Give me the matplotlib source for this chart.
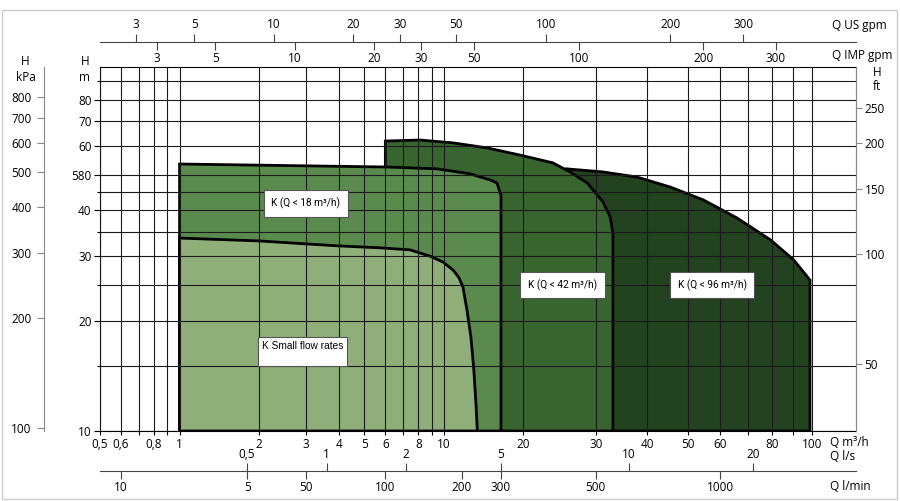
import numpy as np
import matplotlib
matplotlib.use('Agg')
import matplotlib.pyplot as plt
from matplotlib.patches import Rectangle
from matplotlib.ticker import NullFormatter

plt.rcParams['font.family'] = ['Open Sans', 'DejaVu Sans']

# pump ranges, Q in m3/h and H in m
small_q = [1.0, 1.0, 2.0, 3.94, 5.73, 7.44, 8.85, 9.91, 10.97, 11.67, 12.16,
           12.67, 13.2, 13.6, 13.9, 14.1]
small_h = [10, 33.6, 33.0, 32.0, 31.6, 31.2, 30.0, 28.9, 27.5, 26.2, 24.7,
           21.4, 18.05, 14.7, 11.9, 10]
k18_q = [1.0, 1.0, 2.93, 6.09, 9.41, 13.1, 16.1, 17.26, 18.0, 18.0]
k18_h = [10, 53.5, 52.9, 52.5, 51.9, 50.3, 48.4, 47.5, 44.0, 10]
k42_q = [6.0, 6.0, 8.11, 10.97, 15.6, 19.7, 23.6, 26.0, 28.6, 31.2, 32.5, 33.0, 33.0]
k42_h = [10, 61.8, 62.2, 61.1, 59.2, 56.6, 53.9, 50.9, 47.5, 42.2, 38.4, 34.7, 10]
k96_q = [25.5, 25.5, 31.2, 37.7, 45.4, 54.6, 65.9, 79.4, 90.3, 98.9, 98.9]
k96_h = [10, 51.9, 50.9, 49.3, 46.3, 42.7, 38.1, 33.2, 29.3, 25.8, 10]

# axis ticks
q_major = [0.5, 0.6, 0.8, 1, 2, 3, 4, 5, 6, 8, 10, 20, 30, 40, 50, 60, 80, 100]
q_major_lbl = ['0,5', '0,6', '0,8', '1', '2', '3', '4', '5', '6', '8', '10',
               '20', '30', '40', '50', '60', '80', '100']
q_minor = [0.7, 0.9, 7, 9, 70, 90]
h_major = [10, 20, 30, 40, 50, 60, 70, 80]
h_major_lbl = ['10', '20', '30', '40', '580', '60', '70', '80']
h_minor = [15, 25, 35, 45, 90]
us_gpm = [3, 5, 10, 20, 30, 50, 100, 200, 300]
imp_gpm = [3, 5, 10, 20, 30, 50, 100, 200, 300]
l_s = [0.5, 1, 2, 5, 10, 20]
l_s_lbl = ['0,5', '1', '2', '5', '10', '20']
l_min = [10, 30, 50, 100, 200, 300, 500, 1000]
l_min_lbl = ['10', '5', '50', '100', '200', '300', '500', '1000']
kpa = [100, 200, 300, 400, 500, 600, 700, 800]
ft = [50, 100, 150, 200, 250]

# the Q axis of the original is not one plain log scale: piecewise log
knot_q = np.log10([0.01, 0.5, 10, 18, 20, 100, 1000])
knot_u = [-349.0, 100, 444, 501, 523, 812, 1225.4]


def fwd(x):
    x = np.clip(np.asarray(x, dtype=float), 0.01, 1000)
    return np.interp(np.log10(x), knot_q, knot_u)


def inv(u):
    return 10 ** np.interp(u, knot_u, knot_q)


W, H = 900, 501
L, R, T, B = 100, 856, 67, 431
FS = 8.5

fig = plt.figure(figsize=(9, 5.01), dpi=100)
ax = fig.add_axes([L / W, 1 - B / H, (R - L) / W, (B - T) / H])
ax.set_xscale('function', functions=(fwd, inv))
ax.set_yscale('log')
xlim = (0.5, float(inv(R)))
ylim = (10, 98.4)
ax.set_xlim(xlim)
ax.set_ylim(ylim)

ax.fill(k96_q, k96_h, facecolor='#23421f', edgecolor='black', lw=2.0, zorder=1)
ax.fill(k42_q, k42_h, facecolor='#38652f', edgecolor='black', lw=2.0, zorder=1.1)
ax.fill(k18_q, k18_h, facecolor='#5b8a4f', edgecolor='black', lw=2.0, zorder=1.2)
ax.fill(small_q, small_h, facecolor='#8fae7a', edgecolor='black', lw=2.0, zorder=1.3)

ax.set_xticks(q_major)
ax.set_xticklabels(q_major_lbl)
ax.set_xticks(q_minor, minor=True)
ax.xaxis.set_minor_formatter(NullFormatter())
ax.set_yticks(h_major)
ax.set_yticklabels(h_major_lbl)
ax.set_yticks(h_minor, minor=True)
ax.yaxis.set_minor_formatter(NullFormatter())
ax.set_axisbelow(False)
ax.grid(which='both', color='#1a1a1a', lw=0.8)
ax.tick_params(axis='x', which='both', direction='out', length=3, width=0.8,
               pad=2, labelsize=FS)
ax.tick_params(axis='y', which='major', direction='out', length=4, width=0.8,
               pad=2, labelsize=FS)
ax.tick_params(axis='y', which='minor', direction='out', length=2, width=0.8)
for s in ['left', 'bottom', 'top']:
    ax.spines[s].set_color('black')
ax.spines['right'].set_color('#888888')

box = dict(boxstyle='square,pad=0.75', facecolor='white', edgecolor='#555555', lw=0.8)
cond = ['Roboto', 'DejaVu Sans']
ax.text(3.0, 41.8, 'K (Q < 18 m³/h)', ha='center', va='center', fontsize=7.3,
        family=cond, bbox=box, zorder=5)
ax.text(24.9, 25, 'K (Q < 42 m³/h)', ha='center', va='center', fontsize=7.3,
        family=cond, bbox=box, zorder=5)
ax.text(57.3, 25, 'K (Q < 96 m³/h)', ha='center', va='center', fontsize=7.3,
        family=cond, bbox=box, zorder=5)
ax.text(2.05, 17.6, 'K Small flow rates\n ', ha='left', va='top', fontsize=7.3,
        family=['Liberation Sans', 'DejaVu Sans'],
        bbox=dict(boxstyle='square,pad=0.35', facecolor='white',
                  edgecolor='#555555', lw=0.8), zorder=5, linespacing=1.15)


def q_line(py):
    a = fig.add_axes([L / W, 1 - py / H, (R - L) / W, 0.0001])
    a.set_xscale('function', functions=(fwd, inv))
    a.set_xlim(xlim)
    a.set_yticks([])
    a.patch.set_visible(False)
    for s in a.spines.values():
        s.set_visible(False)
    a.xaxis.set_minor_locator(plt.NullLocator())
    return a


# top scales: US gpm above the line, IMP gpm below
a = q_line(42)
a.spines['bottom'].set_visible(True)
a.spines['bottom'].set_color('#444444')
a.xaxis.set_ticks_position('top')
a.set_xticks(np.array(us_gpm) * 0.2271)
a.set_xticklabels([str(v) for v in us_gpm])
a.tick_params(axis='x', direction='out', length=6, width=0.8, pad=2,
              labelsize=FS, color='#444444')

a = q_line(42)
a.xaxis.set_ticks_position('bottom')
a.set_xticks(np.array(imp_gpm) * 0.2728)
a.set_xticklabels([str(v) for v in imp_gpm])
a.tick_params(axis='x', direction='out', length=6, width=0.8, pad=1,
              labelsize=FS, color='#444444')

# bottom scales: l/s above the line, l/min below
a = q_line(471)
a.spines['bottom'].set_visible(True)
a.spines['bottom'].set_color('#444444')
a.xaxis.set_ticks_position('top')
a.set_xticks(np.array(l_s) * 3.6)
a.set_xticklabels(l_s_lbl)
a.tick_params(axis='x', direction='out', length=6, width=0.8, pad=1,
              labelsize=FS, color='#444444')

a = q_line(471)
a.xaxis.set_ticks_position('bottom')
a.set_xticks(np.array(l_min) * 0.06)
a.set_xticklabels(l_min_lbl)
a.tick_params(axis='x', direction='out', length=6, width=0.8, pad=1,
              labelsize=FS, color='#444444')


def h_line(px, side):
    a = fig.add_axes([px / W, 1 - B / H, 0.0001, (B - T) / H])
    a.set_yscale('log')
    a.set_ylim(ylim)
    a.set_xticks([])
    a.patch.set_visible(False)
    for s in a.spines.values():
        s.set_visible(False)
    a.spines[side].set_visible(True)
    a.spines[side].set_color('#888888')
    a.yaxis.set_ticks_position(side)
    a.yaxis.set_minor_locator(plt.NullLocator())
    return a


a = h_line(44, 'left')
a.set_yticks(np.array(kpa) / 9.81)
a.set_yticklabels([str(v) for v in kpa])
a.tick_params(axis='y', direction='out', length=5, width=0.8, pad=4,
              labelsize=FS, color='#888888')

a = h_line(R, 'right')
a.set_yticks(np.array(ft) / 3.281)
a.set_yticklabels([str(v) for v in ft])
a.tick_params(axis='y', direction='out', length=4, width=0.8, pad=2,
              labelsize=FS, color='#888888')

# unit captions
def cap(px, py, s, ha='left'):
    fig.text(px / W, 1 - py / H, s, ha=ha, va='center', fontsize=FS)


cap(832, 26, 'Q US gpm')
cap(832, 56, 'Q IMP gpm')
cap(877, 72, 'H', 'center')
cap(877, 86, 'ft', 'center')
cap(830, 442, 'Q m³/h')
cap(830, 457, 'Q l/s')
cap(830, 486, 'Q l/min')
cap(25, 62, 'H', 'center')
cap(26, 77, 'kPa', 'center')
cap(85, 62, 'H', 'center')
cap(85, 77, 'm', 'center')

fig.patches.append(Rectangle((2 / W, 2 / H), 895 / W, 489 / H, transform=fig.transFigure,
                             fill=False, edgecolor='#cccccc', lw=1))

fig.savefig('out.png', dpi=100)
